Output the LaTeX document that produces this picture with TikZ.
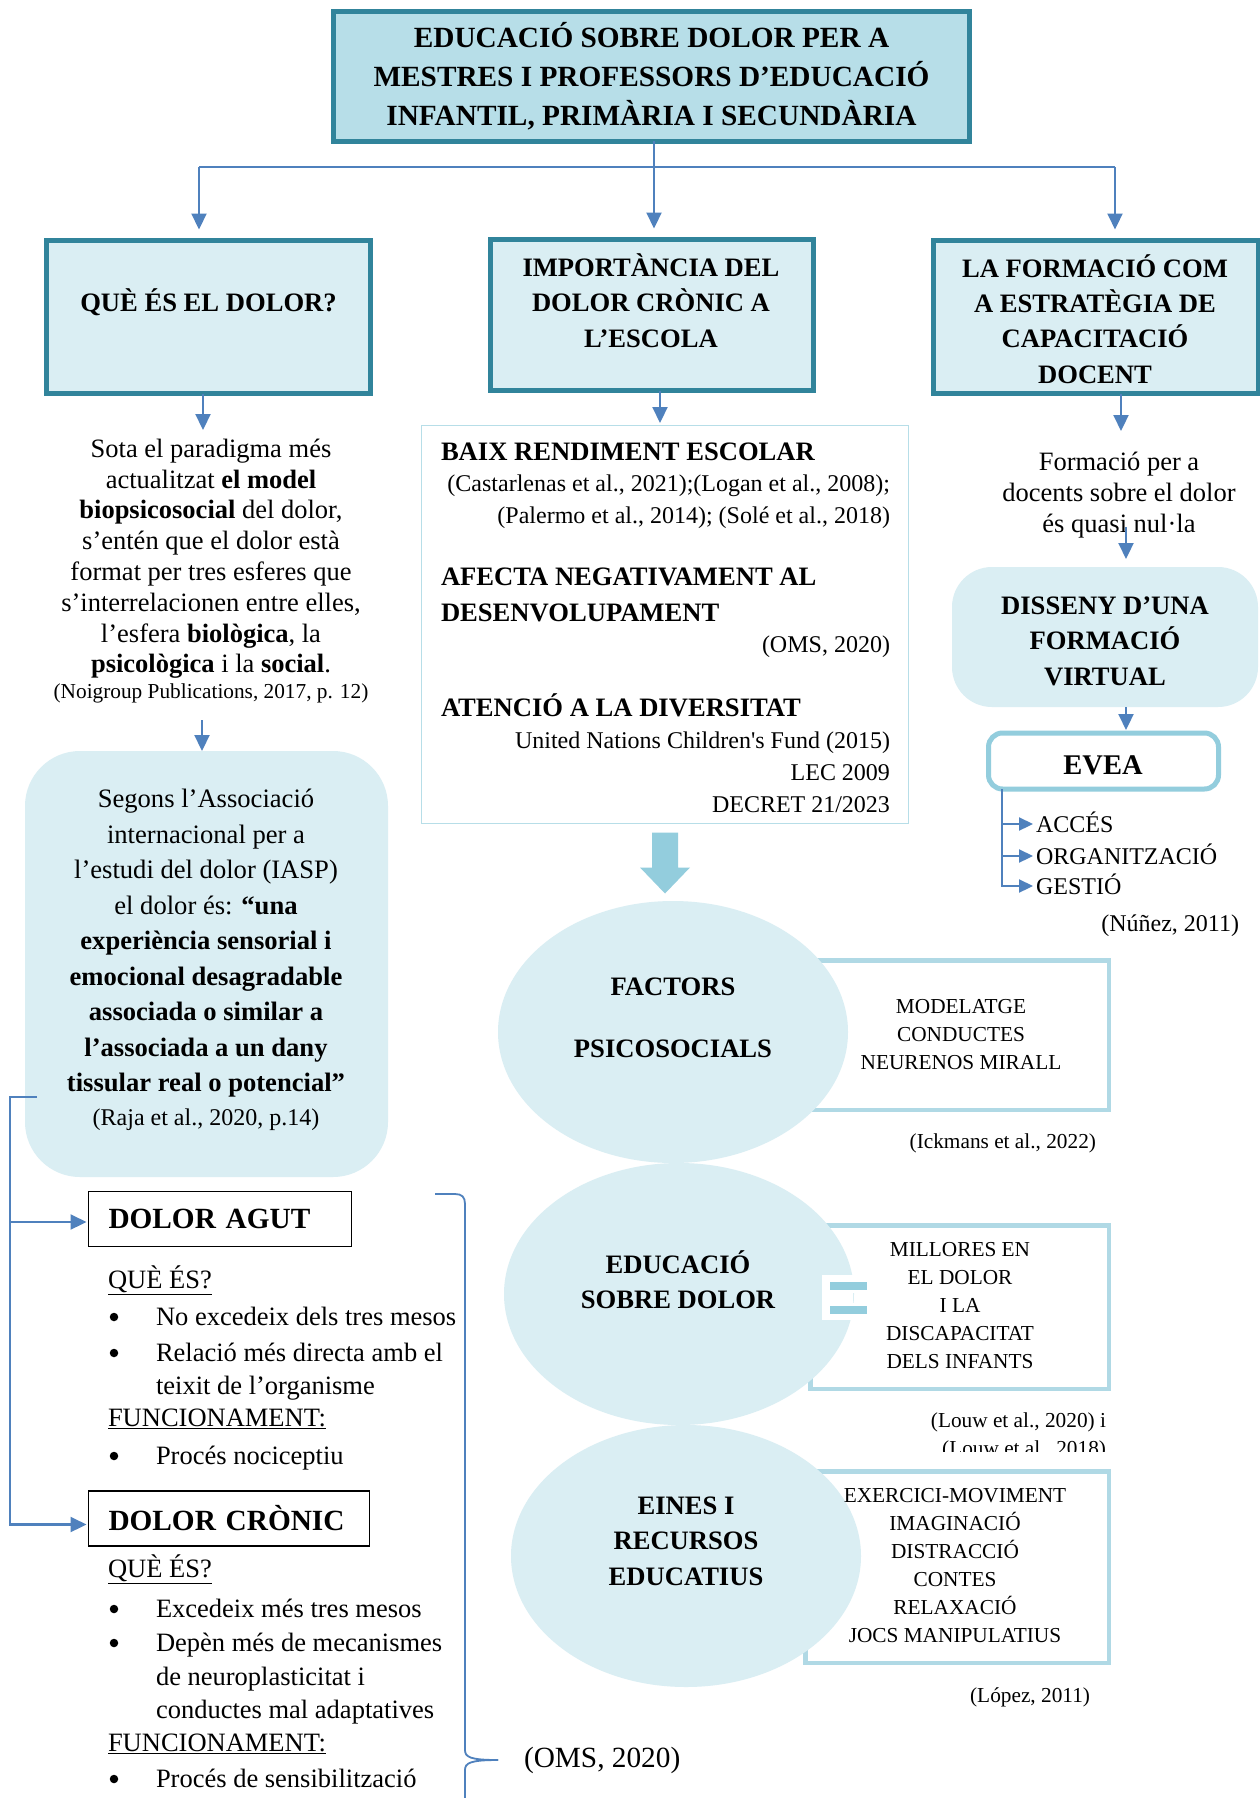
\documentclass[tikz,border=0pt]{standalone}
\usepackage{fontspec}
\setmainfont{Liberation Serif}[Ligatures=TeXOff]
\usetikzlibrary{arrows.meta,shapes.geometric}
\definecolor{cTeal}{HTML}{31849B}
\definecolor{cTop}{HTML}{B7DEE8}
\definecolor{cLight}{HTML}{DAEEF3}
\definecolor{cArrow}{HTML}{4F81BD}
\definecolor{cMid}{HTML}{93CDDD}
\definecolor{cRect}{HTML}{B0D9E5}
\newcommand\fTitle{\fontsize{29.3}{39}\selectfont\bfseries}
\newcommand\fHead{\fontsize{26.6}{35.4}\selectfont\bfseries}
\newcommand\fBody{\fontsize{26.5}{30.8}\selectfont}
\newcommand\fIasp{\fontsize{26.6}{35.5}\selectfont}
\newcommand\fSmall{\fontsize{21.3}{28}\selectfont}
\newcommand\fMid{\fontsize{24}{32}\selectfont}
\newcommand\fBig{\fontsize{29.3}{35}\selectfont}
\newcommand\fEvea{\fontsize{28.5}{34}\selectfont\bfseries}
\begin{document}
\begin{tikzpicture}[x=1pt,y=-1pt,
  every node/.style={inner sep=0pt,outer sep=0pt},
  conn/.style={draw=cArrow,line width=2.2pt},
  arr/.style={conn,-{Triangle[length=16pt,width=15pt]}},
  sarr/.style={conn,-{Triangle[length=14pt,width=13pt]}},
  lvbox/.style={draw=cTeal,line width=5pt,fill=cLight},
  rbox/.style={draw=cRect,line width=4.5pt,fill=white},
  circ/.style={ellipse,fill=cLight,minimum width=350pt,minimum height=262pt},
  blk/.style={align=center,text=black},
  lt/.style={anchor=base west,font=\fBody},
  bul/.style={circle,fill=black,minimum size=8.5pt},
  eqbar/.style={fill=cMid,draw=white,line width=3pt,minimum width=40pt,minimum height=11pt}]

\useasboundingbox (0,0) rectangle (1260,1798);
\fill[white] (0,0) rectangle (1260,1798);

% ---------- top ----------
\node[draw=cTeal,line width=5pt,fill=cTop,minimum width=636pt,minimum height=130pt,align=center,font=\fTitle] (top) at (651.5,76.5) {EDUCACIÓ SOBRE DOLOR PER A\\MESTRES I PROFESSORS D’EDUCACIÓ\\INFANTIL, PRIMÀRIA I SECUNDÀRIA};

\node[lvbox,minimum width=324pt,minimum height=153pt] (box1) at (208.5,317) {};
\node[lvbox,minimum width=323pt,minimum height=151pt] (box2) at (652,315) {};
\node[lvbox,minimum width=325pt,minimum height=153pt] (box3) at (1096,317) {};
\node[blk,font=\fHead] (box1t) at (208.5,302) {QUÈ ÉS EL DOLOR?};
\node[blk,font=\fHead] (box2t) at (651,300.5) {IMPORTÀNCIA DEL\\DOLOR CRÒNIC A\\L’ESCOLA};
\node[blk,font=\fHead] (box3t) at (1095,319) {LA FORMACIÓ COM\\A ESTRATÈGIA DE\\CAPACITACIÓ\\DOCENT};

\coordinate (hub) at (654,167);
\coordinate (hl) at (199,167);
\coordinate (hr) at (1115,167);
\draw[conn] (top.south -| hub) -- (hub);
\draw[conn] (hl) -- (hr);
\draw[arr,shorten >=11pt] (hl) -- (hl |- box1.north);
\draw[arr,shorten >=11pt] (hub) -- (hub |- box2.north);
\draw[arr,shorten >=11pt] (hr) -- (hr |- box3.north);

% ---------- left column ----------
\coordinate (a1e) at (203,430);
\draw[arr] (box1.south -| a1e) -- (a1e);
\node[blk,font=\fBody] (sota) at (211,571) {Sota el paradigma més\\actualitzat \textbf{el model}\\\textbf{biopsicosocial} del dolor,\\s’entén que el dolor està\\format per tres esferes que\\s’interrelacionen entre elles,\\l’esfera \textbf{biològica}, la\\\textbf{psicològica} i la \textbf{social}.\\[-5pt]{\fSmall (Noigroup Publications, 2017, p. 12)}};

\node[fill=cLight,rounded corners=55pt,minimum width=363pt,minimum height=426pt] (iasp) at (206.5,964) {};
\node[blk,font=\fIasp] (iaspt) at (206,960) {Segons l’Associació\\internacional per a\\l’estudi del dolor (IASP)\\el dolor és: \textbf{“una}\\\textbf{experiència sensorial i}\\\textbf{emocional desagradable}\\\textbf{associada o similar a}\\\textbf{l’associada a un dany}\\\textbf{tissular real o potencial”}\\[-1.5pt]{\fMid (Raja et al., 2020, p.14)}};
\coordinate (a2s) at (202,720);
\draw[arr] (a2s) -- (a2s |- iasp.north);

\node[draw=black,line width=1.2pt,text width=223pt,inner xsep=20pt,minimum height=55pt,font=\fBig\bfseries,anchor=west,align=left] (agut) at (88.5,1219) {DOLOR AGUT};
\node[draw=black,line width=1.2pt,text width=241pt,inner xsep=20pt,minimum height=55pt,font=\fBig\bfseries,anchor=west,align=left] (cronic) at (88.5,1518.5) {DOLOR CRÒNIC};

\coordinate (lc) at (10,1097);
\draw[arr,shorten >=2pt] ([xshift=12pt]iasp.west |- lc) -- (lc) |- ([yshift=-3pt]agut.west);
\draw[arr,shorten >=2pt] (lc) |- ([yshift=-6pt]cronic.west);

\node[lt] (q1) at (108,1288) {\underline{QUÈ ÉS?}};
\node[bul] (b1) at (114,1317) {};
\node[lt] (t1) at (156,1325) {No excedeix dels tres mesos};
\node[bul] (b2) at (114,1353) {};
\node[lt] (t2) at (156,1361) {Relació més directa amb el};
\node[lt] (t3) at (156,1394) {teixit de l’organisme};
\node[lt] (f1) at (108,1426) {\underline{FUNCIONAMENT:}};
\node[bul] (b4) at (114,1456) {};
\node[lt] (t4) at (156,1464) {Procés nociceptiu};

\node[lt] (q2) at (108,1577) {\underline{QUÈ ÉS?}};
\node[bul] (b5) at (114,1609) {};
\node[lt] (t5) at (156,1617) {Excedeix més tres mesos};
\node[bul] (b6) at (114,1643) {};
\node[lt] (t6) at (156,1651) {Depèn més de mecanismes};
\node[lt] (t7) at (156,1685) {de neuroplasticitat i};
\node[lt] (t8) at (156,1718) {conductes mal adaptatives};
\node[lt] (f2) at (108,1751) {\underline{FUNCIONAMENT:}};
\node[bul] (b9) at (114,1779) {};
\node[lt] (t9) at (156,1787) {Procés de sensibilització};

% brace
\coordinate (brtip) at (498,1760);
\draw[conn,line width=1.8pt] (435,1194) -- (455,1194) .. controls (462,1194) and (465,1197) .. (465,1204) -- (465,1750) .. controls (465,1757) and (470,1760) .. (brtip);
\draw[conn,line width=1.8pt] (brtip) .. controls (470,1760) and (465,1763) .. (465,1770) -- (465,1800);
\node[anchor=west,font=\fBig] (oms) at (524,1760) {(OMS, 2020)};

% ---------- middle ----------
\node[draw=cTop,line width=1.5pt,minimum width=487pt,minimum height=398pt] (midbox) at (665,624.5) {};
\coordinate (a3e) at (660,423);
\draw[arr] (box2.south -| a3e) -- (a3e);
\node[anchor=west,font=\fHead] (m1) at (441,452) {BAIX RENDIMENT ESCOLAR};
\node[anchor=east,align=right,font=\fMid] (m1c) at (890,502) {(Castarlenas et al., 2021);(Logan et al., 2008);\\(Palermo et al., 2014); (Solé et al., 2018)};
\node[anchor=west,align=left,font=\fHead] (m2) at (441,595) {AFECTA NEGATIVAMENT AL\\DESENVOLUPAMENT};
\node[anchor=east,font=\fMid] (m2c) at (890,647) {(OMS, 2020)};
\node[anchor=west,font=\fHead] (m3) at (441,705) {ATENCIÓ A LA DIVERSITAT};
\node[anchor=east,align=right,font=\fMid] (m3c) at (890,772) {United Nations Children's Fund (2015)\\LEC 2009\\DECRET 21/2023};

% thick arrow
\fill[cMid] ([yshift=-9pt]midbox.south) ++(-13,0) -- ++(26,0) -- ++(0,35) -- ++(12,0) -- ++(-25,26) -- ++(-25,-26) -- ++(12,0) -- cycle;

% rects and ellipses
\node[rbox,minimum width=298.5pt,minimum height=149.5pt] (r1) at (959.5,1035) {};
\node[rbox,minimum width=298.5pt,minimum height=163.5pt] (r2) at (959.5,1307) {};
\node[rbox,minimum width=303.5pt,minimum height=191.5pt] (r3) at (957,1567) {};
\node[circ] (e1) at (673,1032) {};
\node[circ] (e2) at (679,1294) {};
\node[circ] (e3) at (686,1556) {};
\node[blk,font=\fHead] (e1t) at (673,1018) {FACTORS\\[26pt]PSICOSOCIALS};
\node[blk,font=\fHead] (e2t) at (678,1280) {EDUCACIÓ\\SOBRE DOLOR};
\node[blk,font=\fHead] (e3t) at (686,1541) {EINES I\\RECURSOS\\EDUCATIUS};
\node[blk,font=\fSmall] (r1t) at (961,1035) {MODELATGE\\CONDUCTES\\NEURENOS MIRALL};
\node[blk,font=\fSmall] (r2t) at (960,1306) {MILLORES EN\\EL DOLOR\\I LA\\DISCAPACITAT\\DELS INFANTS};
\node[blk,font=\fSmall] (r3t) at (955,1566) {EXERCICI-MOVIMENT\\IMAGINACIÓ\\DISTRACCIÓ\\CONTES\\RELAXACIÓ\\JOCS MANIPULATIUS};

\fill[white] (822,1275) rectangle (853,1320);
\node[eqbar] (eq1) at (848,1285.5) {};
\node[eqbar] (eq2) at (848,1309.5) {};

\node[anchor=east,font=\fSmall] (c1) at (1096,1143) {(Ickmans et al., 2022)};
\begin{scope}
\clip (700,1400) rectangle (1200,1451);
\node[anchor=east,align=right,font=\fSmall] (c2) at (1106,1436) {(Louw et al., 2020) i\\(Louw et al., 2018)};
\end{scope}
\node[anchor=east,font=\fSmall] (c3) at (1090,1697) {(López, 2011)};

% ---------- right column ----------
\coordinate (a4e) at (1121,431);
\draw[arr] (box3.south -| a4e) -- (a4e);
\node[blk,font=\fBody] (form) at (1119,495) {Formació per a\\docents sobre el dolor\\és quasi nul·la};
\node[fill=cLight,rounded corners=40pt,minimum width=306pt,minimum height=140pt] (dis) at (1105,637) {};
\node[blk,font=\fHead] (dist) at (1105,641) {DISSENY D’UNA\\FORMACIÓ\\VIRTUAL};
\coordinate (a5s) at (1126,527);
\draw[arr,shorten >=8pt] (a5s) -- (a5s |- dis.north);
\node[draw=cMid,line width=5pt,fill=white,rounded corners=14pt,minimum width=230pt,minimum height=56pt] (evea) at (1103.5,761) {};
\node[font=\fEvea] (eveat) at (1103,765) {EVEA};
\draw[arr,shorten >=3pt] ([xshift=21pt]dis.south) -- ([xshift=21pt]dis.south |- evea.north);

\node[anchor=base west,font=\fMid] (acc) at (1036,832) {ACCÉS};
\node[anchor=base west,font=\fMid] (org) at (1036,864) {ORGANITZACIÓ};
\node[anchor=base west,font=\fMid] (ges) at (1036,894) {GESTIÓ};
\coordinate (tv) at (1002,886);
\draw[sarr,shorten >=3pt] (tv |- evea.south) |- ([yshift=8pt]acc.base west);
\draw[sarr,shorten >=3pt] (tv |- org.base west) ++(0,-8) -- ([yshift=8pt]org.base west);
\draw[sarr,shorten >=3pt] (tv |- evea.south) |- ([yshift=8pt]ges.base west);
\node[anchor=base east,font=\fMid] (nun) at (1239,931) {(Núñez, 2011)};
\end{tikzpicture}
\end{document}
